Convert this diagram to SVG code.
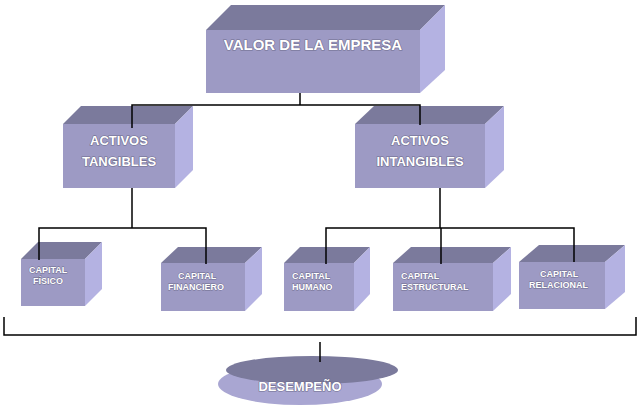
<svg xmlns="http://www.w3.org/2000/svg" width="640" height="411" viewBox="0 0 640 411">
<style>
.f{fill:#9d9ac4}.t{fill:#7b7a9c}.s{fill:#b4b2e2}
text{font-family:"Liberation Sans",Arial,sans-serif;font-weight:bold;fill:#fff;stroke:#6e6c8c;stroke-width:1.2;paint-order:stroke;text-anchor:middle}
.l{font-size:15px}.m{font-size:13px}.k{font-size:9px;stroke-width:0.8;text-anchor:start}
.c{fill:none;stroke:#000;stroke-width:1.5}
</style>
<rect width="640" height="411" fill="#fff"/>
<g id="valor"><polygon class="t" points="206,30 231,5 445,5 420,30"/><polygon class="s" points="420,30 445,5 445,70 420,93"/><rect class="f" x="206" y="30" width="214" height="63"/><text class="l" x="313" y="50">VALOR DE LA EMPRESA</text></g>
<g id="tangibles"><polygon class="t" points="63,124 81,106 193,106 175,124"/><polygon class="s" points="175,124 193,106 193,170 175,188"/><rect class="f" x="63" y="124" width="112" height="64"/><text class="m" x="119" y="145">ACTIVOS</text><text class="m" x="119" y="166">TANGIBLES</text></g>
<g id="intangibles"><polygon class="t" points="355,124 374,106 504,106 485,124"/><polygon class="s" points="485,124 504,106 504,170 485,188"/><rect class="f" x="355" y="124" width="130" height="64"/><text class="m" x="420" y="145">ACTIVOS</text><text class="m" x="420" y="166">INTANGIBLES</text></g>
<g id="fisico"><polygon class="t" points="21,259 38,242 102,242 85,259"/><polygon class="s" points="85,259 102,242 102,289 85,306"/><rect class="f" x="21" y="259" width="64" height="47"/><text class="k" x="29" y="273">CAPITAL</text><text class="k" x="33" y="284">FÍSICO</text></g>
<g id="financiero"><polygon class="t" points="161,263 178,247 262,247 245,263"/><polygon class="s" points="245,263 262,247 262,294 245,311"/><rect class="f" x="161" y="263" width="84" height="48"/><text class="k" x="178" y="279">CAPITAL</text><text class="k" x="168" y="290">FINANCIERO</text></g>
<g id="humano"><polygon class="t" points="284,263 300,247 370,247 354,263"/><polygon class="s" points="354,263 370,247 370,294 354,311"/><rect class="f" x="284" y="263" width="70" height="48"/><text class="k" x="292" y="279">CAPITAL</text><text class="k" x="292" y="290">HUMANO</text></g>
<g id="estructural"><polygon class="t" points="393,263 411,247 511,247 493,263"/><polygon class="s" points="493,263 511,247 511,294 493,311"/><rect class="f" x="393" y="263" width="100" height="48"/><text class="k" x="401" y="279">CAPITAL</text><text class="k" x="401" y="290">ESTRUCTURAL</text></g>
<g id="relacional"><polygon class="t" points="519,262 539,245 625,245 605,262"/><polygon class="s" points="605,262 625,245 625,292 605,309"/><rect class="f" x="519" y="262" width="86" height="47"/><text class="k" x="540" y="277">CAPITAL</text><text class="k" x="529" y="288">RELACIONAL</text></g>
<g id="desempeno"><ellipse cx="300" cy="384" rx="82" ry="21" fill="#a9a6d2"/><ellipse cx="312" cy="370" rx="86" ry="14" fill="#7b7a9c"/><text class="m" x="300" y="391">DESEMPEÑO</text></g>
<g id="connectors">
<polyline class="c" points="300,93 300,105"/><polyline class="c" points="132,128 132,105 420,105 420,125"/>
<polyline class="c" points="132,188 132,228"/><polyline class="c" points="39,260 39,228 206,228 206,264"/>
<polyline class="c" points="440,188 440,228"/><polyline class="c" points="326,264 326,228 574,228 574,262"/><polyline class="c" points="441,228 441,264"/>
<polyline class="c" points="4,317 4,335 636,335 636,317"/><polyline class="c" points="320,342 320,362"/>
</g>
</svg>
